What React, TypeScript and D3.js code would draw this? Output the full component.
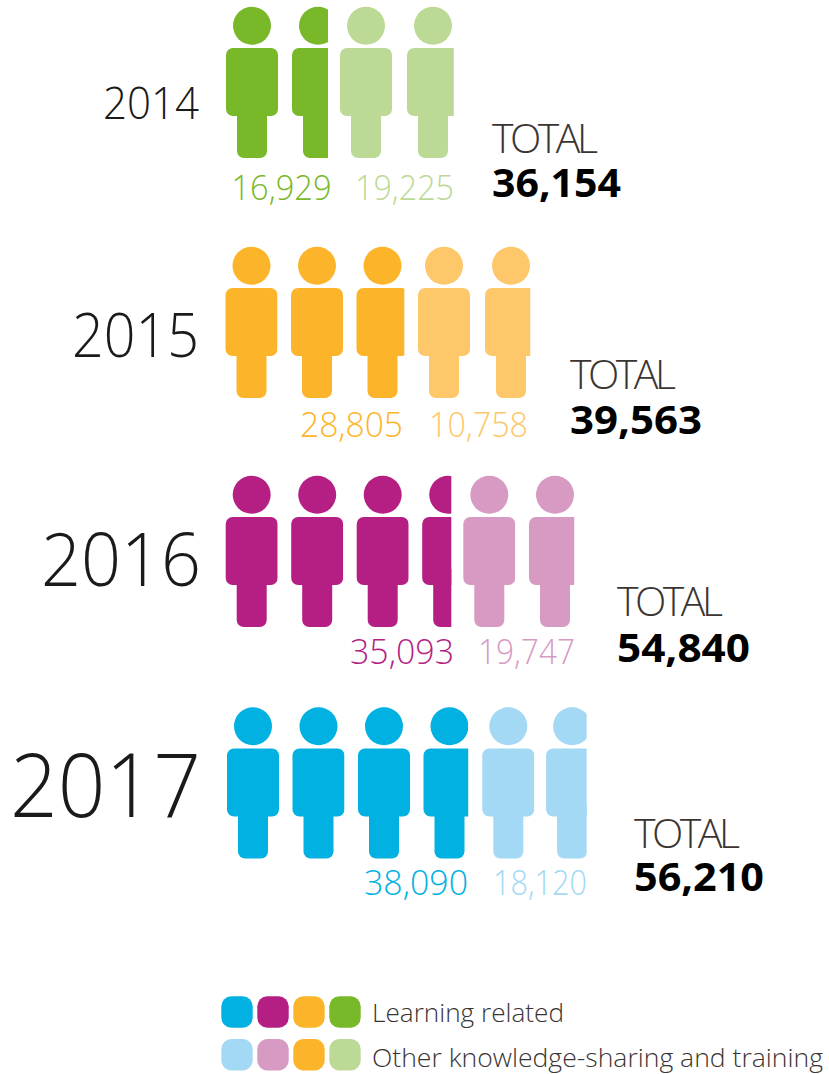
import React from "react";
import * as d3 from "d3";

const years = ["2014", "2015", "2016", "2017"];
const learning = [16929, 28805, 35093, 38090];
const other = [19225, 10758, 19747, 18120];
const totals = [36154, 39563, 54840, 56210];
// figures drawn per group (last one is cut)
const learningFigures = [1.69, 2.92, 3.56, 3.86];
const otherFigures = [1.9, 1.87, 1.87, 1.78];
const darkColors = ["#78b829", "#fcb52a", "#b51f83", "#00b1e2"];
const lightColors = ["#bcd996", "#fdc76a", "#d69ac3", "#a3d9f4"];
const legendDark = ["#00b1e2", "#b51f83", "#fcb52a", "#78b829"];
const legendLight = ["#a3d9f4", "#d69ac3", "#fcb52a", "#bcd996"];
const legendLabels = ["Learning related", "Other knowledge-sharing and training"];

const rowTop = [0, 240, 469, 700.5];
const darkX = [226, 225.5, 225.7, 227];
const darkStep = [66, 65.5, 65.5, 65.5];
const lightX = [340, 418, 463.3, 482.3];
const lightStep = [67, 67, 65.7, 63.8];
const yearX = [103, 72, 41, 10];
const yearLen = [96, 127, 160, 191];
const yearSize = [45, 60, 74, 88];
const yearBase = [118.5, 357, 586, 817];
const darkLabelX = [231.5, 300, 350, 364];
const darkLabelLen = [100, 103, 104, 104];
const lightLabelX = [355, 429, 478, 493];
const lightLabelLen = [99, 99, 97, 94];
const labelBase = [200, 437, 664, 895];
const totalX = [492, 570, 617, 634];
const totalBase = [152.7, 389, 616, 848];
const sumBase = [197, 434, 662, 891];
const sumLen = [129, 132, 133, 130];
const legendLabelLen = [192, 451];

const FONT = "'Open Sans', 'Noto Sans', sans-serif";
const fmt = d3.format(",");
const widthOf = d3.scaleLinear().domain([0, 1]).range([0, 52]);
const FIG_W = widthOf(1);

function Figure({ x, top, fill, frac, id }: { x: number; top: number; fill: string; frac: number; id: string }) {
  return (
    <g>
      <clipPath id={id}>
        <rect x={x - 1} y={top} width={widthOf(frac) + 1} height={160} />
      </clipPath>
      <g clipPath={`url(#${id})`} fill={fill}>
        <circle cx={x + FIG_W / 2} cy={top + 25.8} r={19} />
        <rect x={x} y={top + 48} width={FIG_W} height={68} rx={7} />
        <rect x={x + 11} y={top + 100} width={30} height={58} rx={7} />
      </g>
    </g>
  );
}

function group(count: number, startX: number, step: number, top: number, fill: string, key: string) {
  const n = Math.ceil(count);
  return d3.range(n).map((i) => {
    const frac = Math.min(1, count - i);
    return <Figure key={key + i} id={key + i} x={startX + i * step} top={top} fill={fill} frac={frac} />;
  });
}

export default function App() {
  return (
    <svg
      width={829}
      height={1074}
      viewBox="0 0 829 1074"
      style={{ position: "absolute", left: 0, top: 0, background: "#fff" }}
      fontFamily={FONT}
    >
      {years.map((y, i) => (
        <g key={y}>
          <text x={yearX[i]} y={yearBase[i]} textLength={yearLen[i]} lengthAdjust="spacingAndGlyphs" fontSize={yearSize[i]} fontWeight={300} fill="#1a1a18">
            {y}
          </text>
          {group(learningFigures[i], darkX[i], darkStep[i], rowTop[i], darkColors[i], `d${i}-`)}
          {group(otherFigures[i], lightX[i], lightStep[i], rowTop[i], lightColors[i], `l${i}-`)}
          <text x={darkLabelX[i]} y={labelBase[i]} textLength={darkLabelLen[i]} lengthAdjust="spacingAndGlyphs" fontSize={34} fontWeight={300} fill={darkColors[i]}>
            {fmt(learning[i])}
          </text>
          <text x={lightLabelX[i]} y={labelBase[i]} textLength={lightLabelLen[i]} lengthAdjust="spacingAndGlyphs" fontSize={34} fontWeight={300} fill={lightColors[i]}>
            {fmt(other[i])}
          </text>
          <text x={totalX[i]} y={totalBase[i]} textLength={106} fontSize={41} fontWeight={300} fill="#3a3533">
            TOTAL
          </text>
          <text x={totalX[i]} y={sumBase[i]} textLength={sumLen[i]} lengthAdjust="spacingAndGlyphs" fontSize={39} fontWeight={700} fill="#000">
            {fmt(totals[i])}
          </text>
        </g>
      ))}
      {[legendDark, legendLight].map((cols, r) => (
        <g key={r}>
          {cols.map((c, i) => (
            <rect key={i} x={221.3 + i * 36} y={996.3 + r * 42.7} width={31.4} height={31.4} rx={10} fill={c} />
          ))}
          <text x={372} y={1022 + r * 45} textLength={legendLabelLen[r]} lengthAdjust="spacingAndGlyphs" fontSize={26.5} fontWeight={300} fill="#3a3533">
            {legendLabels[r]}
          </text>
        </g>
      ))}
    </svg>
  );
}
